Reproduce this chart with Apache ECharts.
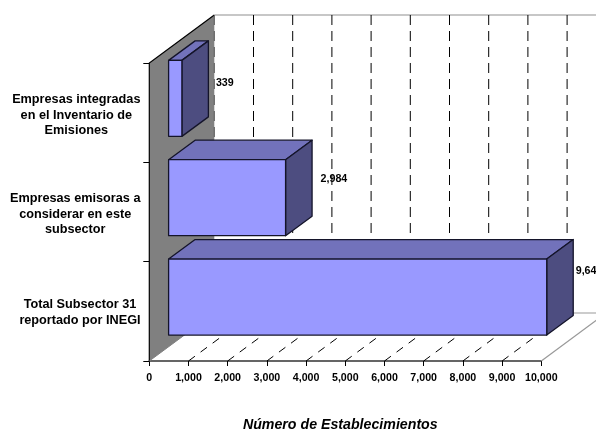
<!DOCTYPE html>
<html>
<head>
<meta charset="utf-8">
<style>html,body{margin:0;padding:0;background:#fff}#c{width:596px;height:430px}</style>
<script src="https://cdn.jsdelivr.net/npm/echarts@6/dist/echarts.min.js"></script>
</head>
<body>
<div id="c"></div>
<script>
var categories = ['Empresas integradas\nen el Inventario de\nEmisiones', 'Empresas emisoras a\nconsiderar en este\nsubsector', 'Total Subsector 31\nreportado por INEGI'];
var values = [339, 2984, 9646];
var valueLabels = ['339', '2,984', '9,646'];
var xTicks = [0, 1000, 2000, 3000, 4000, 5000, 6000, 7000, 8000, 9000, 10000];

// 3D projection of the box (pixels)
var WALL_DX = 65, WALL_DY = 48;
var GAP_DX = 19.3, GAP_DY = 14.3;
var BAR_DX = 26.5, BAR_DY = 19.5;
var BAR_H = 76;
var LABEL_NUDGE = [[34, -15.5], [35, -18.5], [29, -26]];
var CAT_LABEL_X = [76.3, 75.2, 80];
var CAT_LABEL_NUDGE = [2.5, 2, 1.5];

var chart = echarts.init(document.getElementById('c'), null, {renderer: 'canvas'});

function renderBack(params, api) {
  var cs = params.coordSys;
  var left = cs.x, top = cs.y, bottom = cs.y + cs.height, right = cs.x + cs.width;
  var kids = [];
  var edge = '#000';
  kids.push({type: 'polygon', shape: {points: [[left, top], [left + WALL_DX, top - WALL_DY], [left + WALL_DX, bottom - WALL_DY], [left, bottom]]},
    style: {fill: '#808080', stroke: 'none'}});
  kids.push({type: 'polyline', shape: {points: [[left, bottom], [left, top], [left + WALL_DX, top - WALL_DY]]},
    style: {fill: 'none', stroke: edge, lineWidth: 1.2}});
  kids.push({type: 'line', shape: {x1: left + WALL_DX, y1: top - WALL_DY, x2: right + WALL_DX, y2: top - WALL_DY},
    style: {stroke: '#b4b4b4', lineWidth: 1.5}});
  kids.push({type: 'line', shape: {x1: left + WALL_DX, y1: bottom - WALL_DY, x2: right + WALL_DX, y2: bottom - WALL_DY},
    style: {stroke: '#999', lineWidth: 1.2}});
  kids.push({type: 'line', shape: {x1: right, y1: bottom, x2: right + WALL_DX, y2: bottom - WALL_DY},
    style: {stroke: '#999', lineWidth: 1.2}});
  kids.push({type: 'line', shape: {x1: left, y1: bottom, x2: left + WALL_DX, y2: bottom - WALL_DY},
    style: {stroke: '#808080', lineWidth: 1}});
  xTicks.forEach(function (t) {
    var x = api.coord([t, 0])[0];
    kids.push({type: 'line', shape: {x1: x + WALL_DX, y1: top - WALL_DY, x2: x + WALL_DX, y2: bottom - WALL_DY},
      style: {stroke: t === 0 ? '#555' : '#000', lineWidth: 1, lineDash: [10, 6]}});
    if (t > 0 && t < 10000) {
      kids.push({type: 'line', shape: {x1: x, y1: bottom, x2: x + WALL_DX, y2: bottom - WALL_DY},
        style: {stroke: '#000', lineWidth: 1, lineDash: [8, 7]}});
    }
  });
  categories.forEach(function (c, i) {
    kids.push({type: 'text', style: {x: CAT_LABEL_X[i], y: api.coord([0, i])[1] + CAT_LABEL_NUDGE[i], text: c,
      font: 'bold 12.7px "Liberation Sans", Arial, sans-serif', fill: '#000', align: 'center', verticalAlign: 'middle', lineHeight: 15.7}});
  });
  return {type: 'group', silent: true, children: kids};
}

function renderBar(params, api) {
  var i = params.dataIndex;
  var v = api.value(0), cat = api.value(1);
  var base = api.coord([0, cat]), end = api.coord([v, cat]);
  var x0 = base[0] + GAP_DX, x1 = end[0] + GAP_DX;
  var yc = base[1] - GAP_DY;
  var y0 = yc - BAR_H / 2, y1 = yc + BAR_H / 2;
  var dx = BAR_DX, dy = BAR_DY;
  var line = {stroke: '#14142a', lineWidth: 1.3, lineJoin: 'round'};
  return {type: 'group', children: [
    {type: 'polygon', shape: {points: [[x0, y0], [x0 + dx, y0 - dy], [x1 + dx, y0 - dy], [x1, y0]]},
      style: Object.assign({fill: '#7272BB'}, line)},
    {type: 'polygon', shape: {points: [[x1, y0], [x1 + dx, y0 - dy], [x1 + dx, y1 - dy], [x1, y1]]},
      style: Object.assign({fill: '#4D4D80'}, line)},
    {type: 'rect', shape: {x: x0, y: y0, width: x1 - x0, height: y1 - y0},
      style: Object.assign({fill: '#9999FF'}, line)},
    {type: 'text', style: {x: x1 + LABEL_NUDGE[i][0], y: yc + LABEL_NUDGE[i][1], text: valueLabels[i],
      font: 'bold 10.67px "Liberation Sans", Arial, sans-serif', fill: '#000', align: 'left', verticalAlign: 'middle'}}
  ]};
}

chart.setOption({
  animation: false,
  backgroundColor: '#fff',
  grid: {left: 149.3, top: 63, width: 392, height: 298, containLabel: false, outerBoundsMode: 'none'},
  xAxis: {
    type: 'value', min: 0, max: 10000, interval: 1000,
    splitLine: {show: false},
    axisLine: {show: true, lineStyle: {color: '#333', width: 1.5}},
    axisTick: {show: true, length: 5, lineStyle: {color: '#000', width: 1}},
    axisLabel: {margin: 12, color: '#000', fontFamily: 'Liberation Sans', fontWeight: 'bold', fontSize: 10.67, hideOverlap: false, showMinLabel: true, showMaxLabel: true,
      formatter: function (v) { return echarts.format.addCommas(v); }},
    name: 'Número de Establecimientos',
    nameLocation: 'middle', nameGap: 57,
    nameTextStyle: {color: '#000', fontFamily: 'Liberation Sans', fontWeight: 'bold', fontStyle: 'italic', fontSize: 14.2, padding: [0, 10, 0, 0]}
  },
  yAxis: {
    type: 'category', inverse: true, data: categories,
    axisLine: {show: false},
    axisTick: {show: true, length: 6, alignWithLabel: false, lineStyle: {color: '#000', width: 1}},
    axisLabel: {show: false}
  },
  series: [
    {type: 'custom', coordinateSystem: 'cartesian2d', silent: true, renderItem: renderBack, data: [[0, 0]], encode: {x: 0, y: 1}, z: 1},
    {type: 'custom', coordinateSystem: 'cartesian2d', renderItem: renderBar, encode: {x: 0, y: 1}, z: 2,
      data: values.map(function (v, i) { return [v, i]; })}
  ]
});
</script>
</body>
</html>
